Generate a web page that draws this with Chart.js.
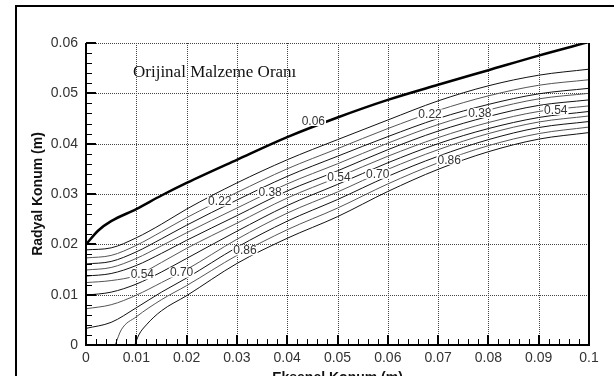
<!DOCTYPE html>
<html>
<head>
<meta charset="utf-8">
<script src="https://cdn.jsdelivr.net/npm/chart.js@4.4.1/dist/chart.umd.min.js"></script>
<style>
  html, body { margin: 0; padding: 0; background: #fff; overflow: hidden; }
  canvas { display: block; }
</style>
</head>
<body>
<canvas id="chart" width="614" height="376"></canvas>
<script>
const xStations006 = [0, 0.0025, 0.005, 0.01, 0.015, 0.02, 0.03, 0.04, 0.05, 0.06, 0.07, 0.08, 0.09, 0.1];
const xStations = [0, 0.005, 0.01, 0.015, 0.02, 0.03, 0.04, 0.05, 0.06, 0.07, 0.08, 0.09, 0.1];
const xStations086 = [0.0058, 0.007, 0.01, 0.015, 0.02, 0.03, 0.04, 0.05, 0.06, 0.07, 0.08, 0.09, 0.1];
const xStations094 = [0.0097, 0.0105, 0.012, 0.015, 0.02, 0.03, 0.04, 0.05, 0.06, 0.07, 0.08, 0.09, 0.1];

// radial position (m) of each contour level
const line006 = [0.0200, 0.0228, 0.0246, 0.0270, 0.0297, 0.0322, 0.0368, 0.0413, 0.0452, 0.0487, 0.0517, 0.0546, 0.0575, 0.0602];
const line014 = [0.0189, 0.0193, 0.0213, 0.0240, 0.0270, 0.0322, 0.0368, 0.0408, 0.0447, 0.0485, 0.0515, 0.0536, 0.0548];
const line022 = [0.0173, 0.0178, 0.0198, 0.0225, 0.0253, 0.0303, 0.0350, 0.0390, 0.0430, 0.0466, 0.0495, 0.0516, 0.0527];
const line030 = [0.0161, 0.0166, 0.0185, 0.0211, 0.0238, 0.0288, 0.0335, 0.0375, 0.0414, 0.0450, 0.0478, 0.0499, 0.0510];
const line038 = [0.0149, 0.0154, 0.0172, 0.0197, 0.0223, 0.0272, 0.0320, 0.0360, 0.0401, 0.0438, 0.0467, 0.0489, 0.0500];
const line046 = [0.0137, 0.0142, 0.0158, 0.0182, 0.0208, 0.0257, 0.0306, 0.0346, 0.0388, 0.0425, 0.0454, 0.0476, 0.0487];
const line054 = [0.0124, 0.0128, 0.0138, 0.0164, 0.0192, 0.0242, 0.0292, 0.0333, 0.0375, 0.0412, 0.0442, 0.0464, 0.0475];
const line062 = [0.0099, 0.0105, 0.0121, 0.0145, 0.0172, 0.0226, 0.0277, 0.0319, 0.0362, 0.0400, 0.0430, 0.0452, 0.0464];
const line070 = [0.0072, 0.0080, 0.0099, 0.0124, 0.0150, 0.0210, 0.0262, 0.0304, 0.0349, 0.0388, 0.0420, 0.0443, 0.0455];
const line078 = [0.0033, 0.0045, 0.0074, 0.0105, 0.0133, 0.0194, 0.0246, 0.0289, 0.0335, 0.0375, 0.0408, 0.0432, 0.0444];
const line086 = [0.0000, 0.0030, 0.0056, 0.0090, 0.0118, 0.0178, 0.0229, 0.0272, 0.0320, 0.0362, 0.0396, 0.0420, 0.0433];
const line094 = [0.0000, 0.0020, 0.0040, 0.0068, 0.0098, 0.0162, 0.0212, 0.0255, 0.0305, 0.0349, 0.0384, 0.0409, 0.0422];

const contourLevels = ['0.06', '0.14', '0.22', '0.30', '0.38', '0.46', '0.54', '0.62', '0.70', '0.78', '0.86', '0.94'];

// inline contour labels
const labelText = ['0.06', '0.22', '0.38', '0.54', '0.22', '0.38', '0.54', '0.70', '0.86', '0.54', '0.70', '0.86'];
const labelX = [0.0452, 0.0684, 0.0783, 0.0934, 0.0266, 0.0366, 0.0503, 0.0580, 0.0722, 0.0112, 0.0190, 0.0316];
const labelY = [0.0445, 0.0458, 0.0461, 0.0467, 0.0285, 0.0304, 0.0334, 0.0340, 0.0368, 0.0140, 0.0144, 0.0188];

const xTickLabels = ['0', '0.01', '0.02', '0.03', '0.04', '0.05', '0.06', '0.07', '0.08', '0.09', '0.1'];
const yTickLabels = ['0', '0.01', '0.02', '0.03', '0.04', '0.05', '0.06'];

const series = [line006, line014, line022, line030, line038, line046, line054, line062, line070, line078, line086, line094];
const seriesX = [xStations006, xStations, xStations, xStations, xStations, xStations, xStations, xStations, xStations, xStations, xStations086, xStations094];

const datasets = series.map((ys, i) => ({
    label: contourLevels[i],
    data: ys.map((y, j) => ({ x: seriesX[i][j], y: y })),
    borderColor: i === 0 ? '#000' : (i % 2 ? '#111' : '#555'),
    borderWidth: i === 0 ? 2.5 : 1,
    pointRadius: 0,
    cubicInterpolationMode: 'monotone',
    fill: false,
}));

const decor = {
    id: 'decor',
    beforeDraw(chart) {
        const { ctx, width, height } = chart;
        ctx.save();
        ctx.fillStyle = '#fff';
        ctx.fillRect(0, 0, width, height);
        // outer frame, runs off the picture at right and bottom
        ctx.strokeStyle = '#000';
        ctx.lineWidth = 2;
        ctx.strokeRect(16, 6, width + 40, height + 40);
        ctx.restore();
    },
    beforeDatasetsDraw(chart) {
        const { ctx, chartArea: a, scales: { x, y } } = chart;
        ctx.save();
        ctx.strokeStyle = '#444';
        ctx.lineWidth = 1;
        ctx.setLineDash([1, 1]);
        for (let k = 1; k <= 9; k++) {
            const px = Math.round(x.getPixelForValue(k / 100)) + 0.5;
            ctx.beginPath(); ctx.moveTo(px, a.top); ctx.lineTo(px, a.bottom); ctx.stroke();
        }
        for (let k = 1; k <= 6; k++) {
            const py = Math.round(y.getPixelForValue(k / 100)) + 0.5;
            ctx.beginPath(); ctx.moveTo(a.left, py); ctx.lineTo(a.right, py); ctx.stroke();
        }
        ctx.restore();
    },
    afterDatasetsDraw(chart) {
        const { ctx, chartArea: a, scales: { x, y } } = chart;
        ctx.save();
        ctx.strokeStyle = '#000';
        ctx.lineWidth = 2;
        ctx.beginPath();
        ctx.moveTo(a.left, a.top); ctx.lineTo(a.left, a.bottom); ctx.lineTo(a.right, a.bottom); ctx.lineTo(a.right, a.top);
        ctx.stroke();

        // inward ticks, minor every 0.002
        for (let k = 0; k <= 50; k++) {
            const major = k % 5 === 0;
            const px = Math.round(x.getPixelForValue(k * 0.002)) + (major ? 0 : 0.5);
            ctx.lineWidth = major ? 2 : 1;
            ctx.beginPath(); ctx.moveTo(px, a.bottom); ctx.lineTo(px, a.bottom - (major ? 10 : 6)); ctx.stroke();
        }
        for (let k = 0; k <= 30; k++) {
            const major = k % 5 === 0;
            const py = Math.round(y.getPixelForValue(k * 0.002)) + (major ? 0 : 0.5);
            ctx.lineWidth = major ? 2 : 1;
            ctx.beginPath(); ctx.moveTo(a.left, py); ctx.lineTo(a.left + (major ? 10 : 6), py); ctx.stroke();
        }

        // contour labels, line broken under the text
        ctx.font = '12px "Liberation Sans", Arial, sans-serif';
        ctx.textAlign = 'center';
        ctx.textBaseline = 'middle';
        labelText.forEach((t, i) => {
            const px = x.getPixelForValue(labelX[i]);
            const py = y.getPixelForValue(labelY[i]);
            const w = ctx.measureText(t).width;
            ctx.fillStyle = '#fff';
            ctx.fillRect(px - w / 2 - 1, py - 5, w + 2, 10);
            ctx.fillStyle = '#333';
            ctx.fillText(t, px, py + 0.5);
        });

        // caption inside the plot
        ctx.fillStyle = '#111';
        ctx.textAlign = 'left';
        ctx.textBaseline = 'alphabetic';
        ctx.font = '17px "Liberation Serif", "Times New Roman", serif';
        ctx.fillText('Orijinal Malzeme Oranı', 133, 77);

        // axis titles
        ctx.font = 'bold 14px "Liberation Sans", Arial, sans-serif';
        ctx.textAlign = 'center';
        ctx.textBaseline = 'top';
        ctx.fillText('Eksenel Konum (m)', (a.left + a.right) / 2, 371);
        ctx.translate(38, (a.top + a.bottom) / 2);
        ctx.rotate(-Math.PI / 2);
        ctx.textBaseline = 'middle';
        ctx.fillText('Radyal Konum (m)', 0, 0);
        ctx.restore();
    },
};

const tickFont = { family: '"Liberation Sans", Arial, sans-serif', size: 14 };

new Chart(document.getElementById('chart').getContext('2d'), {
    type: 'line',
    data: { datasets: datasets },
    options: {
        responsive: false,
        animation: false,
        layout: { padding: { top: 43, right: 25, left: 0, bottom: 0 } },
        plugins: { legend: { display: false }, tooltip: { enabled: false } },
        scales: {
            x: {
                type: 'linear',
                min: 0,
                max: 0.1,
                grid: { display: false, drawTicks: false },
                border: { display: false },
                afterFit: (s) => { s.height = 31; },
                ticks: {
                    stepSize: 0.01,
                    autoSkip: false,
                    maxRotation: 0,
                    padding: 5,
                    color: '#333',
                    font: tickFont,
                    callback: (v, i) => xTickLabels[i],
                },
            },
            y: {
                type: 'linear',
                min: 0,
                max: 0.06,
                grid: { display: false, drawTicks: false },
                border: { display: false },
                afterFit: (s) => { s.width = 86; },
                ticks: {
                    stepSize: 0.01,
                    autoSkip: false,
                    padding: 8,
                    color: '#333',
                    font: tickFont,
                    callback: (v, i) => yTickLabels[i],
                },
            },
        },
    },
    plugins: [decor],
});
</script>
</body>
</html>
